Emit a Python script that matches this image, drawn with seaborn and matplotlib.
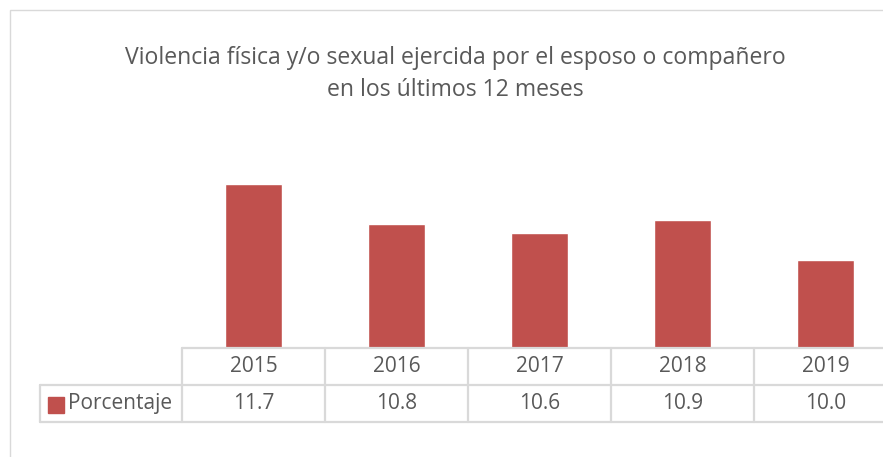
import matplotlib
matplotlib.use("Agg")
import matplotlib.pyplot as plt
import seaborn as sns
from matplotlib.patches import Rectangle

# data
years = ["2015", "2016", "2017", "2018", "2019"]
porcentaje = [11.7, 10.8, 10.6, 10.9, 10.0]
series_name = "Porcentaje"
title = "Violencia física y/o sexual ejercida por el esposo o compañero\nen los últimos 12 meses"

bar_color = "#C0504D"
grid_color = "#D9D9D9"
text_color = "#595959"

sns.set_style("white")
plt.rcParams["font.family"] = ["Open Sans", "DejaVu Sans"]

W, H = 883, 457
fig = plt.figure(figsize=(W / 100, H / 100), dpi=100)

# plot area in pixels: x 182 -> 897, y 171 -> 348
x0, x1, y0, y1 = 182, 897, 171, 348
ax = fig.add_axes([x0 / W, 1 - y1 / H, (x1 - x0) / W, (y1 - y0) / H])

sns.barplot(x=years, y=porcentaje, color=bar_color, width=0.4, ax=ax, saturation=1)
ax.set_ylim(8, 12)
ax.set_xlim(-0.5, len(years) - 0.5)
ax.set_xlabel("")
ax.set_ylabel("")
ax.set_xticks([])
ax.set_yticks([])
for s in ax.spines.values():
    s.set_visible(False)

# chart border
fig.patches.append(Rectangle((10 / W, -0.1), 1.2, 1 - 10 / H + 0.1, transform=fig.transFigure,
                             fill=False, edgecolor=grid_color, linewidth=1))

fig.text(455 / W, 1 - 74 / H, title, ha="center", va="center", fontsize=16.6,
         color=text_color, linespacing=1.4)

# data table below the plot area
ph = y1 - y0
row = 37 / ph
tr = ax.get_xaxis_transform()
lw = 1.6
n = len(years)
label_left_px = 40
label_left = -0.5 + (label_left_px - x0) / ((x1 - x0) / n)

ax.plot([-0.5, n - 0.5], [0, 0], transform=tr, color=grid_color, lw=lw, clip_on=False)
ax.plot([label_left, n - 0.5], [-row, -row], transform=tr, color=grid_color, lw=lw, clip_on=False)
ax.plot([label_left, n - 0.5], [-2 * row, -2 * row], transform=tr, color=grid_color, lw=lw, clip_on=False)
ax.plot([label_left, label_left], [-row, -2 * row], transform=tr, color=grid_color, lw=lw, clip_on=False)
for i in range(n + 1):
    ax.plot([i - 0.5, i - 0.5], [0, -2 * row], transform=tr, color=grid_color, lw=lw, clip_on=False)

for i, (yr, v) in enumerate(zip(years, porcentaje)):
    ax.text(i, -0.5 * row, yr, transform=tr, ha="center", va="center", fontsize=15, color=text_color)
    ax.text(i, -1.5 * row, f"{v:.1f}", transform=tr, ha="center", va="center", fontsize=15, color=text_color)

# legend key inside the table
fig.patches.append(Rectangle((48 / W, 1 - 413 / H), 16 / W, 16 / H, transform=fig.transFigure,
                             color=bar_color))
fig.text(68 / W, 1 - 404 / H, series_name, ha="left", va="center", fontsize=15, color=text_color)

fig.savefig("out.png", dpi=100)
